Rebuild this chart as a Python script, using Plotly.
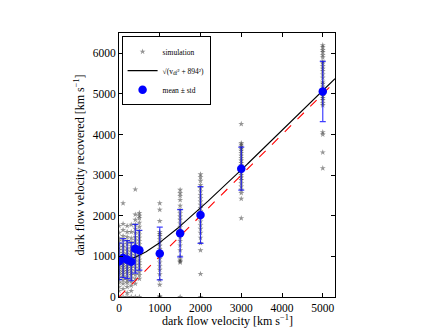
import numpy as np
import plotly.graph_objects as go

# injected dark flow velocities [km/s]
v_in = [0, 100, 200, 300, 400, 500, 1000, 1500, 2000, 3000, 5000]

# recovered velocities of individual simulations, per injected velocity
sim_0 = [1750, 1580, 1450, 1380, 1300, 1220, 1150, 1080, 1000, 950, 900, 850,
         800, 760, 700, 650, 600, 550, 480, 420, 350, 250, 150, 0]
sim_100 = [2310, 1800, 1650, 1500, 1400, 1300, 1230, 1150, 1080, 1020, 960, 900,
           850, 800, 740, 680, 620, 560, 500, 420, 330, 200, 0]
sim_200 = [1750, 1600, 1480, 1380, 1300, 1200, 1130, 1060, 1000, 940, 880, 820,
           760, 700, 640, 580, 500, 420, 350, 250, 100, 0]
sim_300 = [1780, 1600, 1450, 1350, 1250, 1170, 1100, 1030, 970, 900, 840, 780,
           720, 660, 600, 540, 460, 380, 280, 150, 0]
sim_400 = [2650, 2030, 1900, 1780, 1680, 1580, 1480, 1400, 1320, 1250, 1180,
           1100, 1020, 950, 880, 800, 720, 640, 550, 450, 330, 0]
sim_500 = [2070, 2000, 1940, 1830, 1730, 1620, 1540, 1460, 1380, 1300, 1220,
           1150, 1080, 1000, 920, 850, 780, 700, 620, 540, 450, 0]
sim_1000 = [2310, 2150, 1870, 1600, 1550, 1500, 1420, 1340, 1260, 1180, 1100,
            1020, 940, 850, 760, 670, 560, 420, 300, 20, 0]
sim_1500 = [2640, 2560, 2490, 2390, 2250, 2150, 2060, 1980, 1900, 1810, 1720,
            1640, 1560, 1470, 1380, 1270, 1150, 1000, 920, 880, 850, 0]
sim_2000 = [3020, 2950, 2860, 2760, 2680, 2600, 2510, 2430, 2350, 2270, 2190,
            2110, 2030, 1950, 1860, 1770, 1680, 1580, 1460, 1330, 1150, 570, 0]
sim_3000 = [4260, 3790, 3750, 3700, 3650, 3600, 3540, 3480, 3420, 3360, 3300,
            3240, 3180, 3120, 3060, 3000, 2940, 2880, 2800, 2720, 2640, 2560,
            2420, 1940]
sim_5000 = [6200, 6150, 6080, 6030, 5960, 5900, 5800, 5750, 5680, 5620, 5560,
            5480, 5400, 5300, 5250, 5180, 5120, 5060, 5010, 4950, 4900, 4850,
            4780, 4720, 4060, 4000, 3560, 3170]

sims = [sim_0, sim_100, sim_200, sim_300, sim_400, sim_500,
        sim_1000, sim_1500, sim_2000, sim_3000, sim_5000]

# mean and standard deviation
mean_v = [880, 960, 920, 870, 1190, 1150, 1070, 1570, 2020, 3160, 5060]
std_v = [450, 480, 470, 470, 600, 490, 650, 580, 700, 530, 740]

v_floor = 894

sim_x = []
sim_y = []
for v, s in zip(v_in, sims):
    sim_x += [v] * len(s)
    sim_y += s

xx = np.linspace(0, 5300, 200)
model = np.sqrt(xx**2 + v_floor**2)

font = "Liberation Serif"

fig = go.Figure()
fig.add_trace(go.Scatter(x=sim_x, y=sim_y, mode='markers', name='simulation',
                         marker=dict(symbol='star', size=4.5,
                                     color='rgba(0,0,0,0.42)',
                                     line=dict(width=0))))
fig.add_trace(go.Scatter(x=xx, y=model, mode='lines',
                         name='√(v<sub>df</sub>² + 894²)',
                         line=dict(color='black', width=1.1)))
fig.add_trace(go.Scatter(x=[0, 5300], y=[0, 5300], mode='lines',
                         showlegend=False,
                         line=dict(color='red', width=1.1, dash='dash')))
fig.add_trace(go.Scatter(x=v_in, y=mean_v, mode='markers', name='mean ± std',
                         marker=dict(size=8.5, color='blue'),
                         error_y=dict(type='data', array=std_v, visible=True,
                                      color='rgba(0,0,255,0.75)',
                                      thickness=1.2, width=3)))

axis = dict(showline=True, linecolor='black', linewidth=1, mirror='ticks',
            ticks='inside', ticklen=4, tickcolor='black', showgrid=False,
            zeroline=False, tickfont=dict(family=font, size=11.5, color='black'))

fig.update_layout(
    width=443, height=332,
    margin=dict(l=119, r=108, t=33, b=35),
    paper_bgcolor='white', plot_bgcolor='white',
    font=dict(family=font, color='black'),
    xaxis=dict(axis, range=[0, 5300], dtick=1000),
    yaxis=dict(axis, range=[0, 6500], dtick=1000,
               title=dict(text='dark flow velocity recovered [km s<sup>−1</sup>]',
                          font=dict(family=font, size=12), standoff=5)),
    legend=dict(x=0.012, y=0.988, xanchor='left', yanchor='top',
                bgcolor='white', bordercolor='black', borderwidth=1,
                font=dict(family=font, size=7.5), tracegroupgap=0,
                itemwidth=30),
    annotations=[dict(text='dark flow velocity [km s<sup>−1</sup>]',
                      xref='paper', yref='paper', x=0.5, y=0,
                      xanchor='center', yanchor='middle', yshift=-23,
                      showarrow=False, font=dict(family=font, size=12))],
)

fig.write_html("out.html", config={'displayModeBar': False},
               post_script="document.body.style.margin='0';")
